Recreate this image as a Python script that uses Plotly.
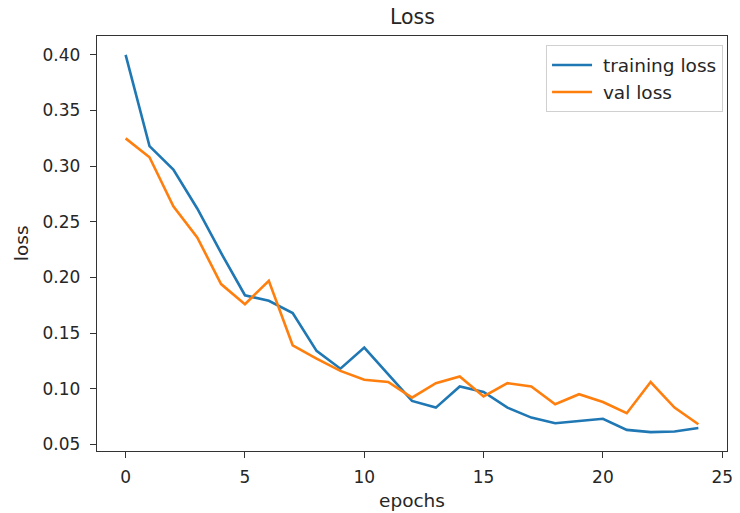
import plotly.graph_objects as go

epochs = list(range(25))
training_loss = [0.400, 0.318, 0.297, 0.262, 0.222, 0.184, 0.179, 0.168, 0.134, 0.118,
                 0.137, 0.113, 0.089, 0.083, 0.102, 0.097, 0.083, 0.074, 0.069, 0.071,
                 0.073, 0.063, 0.061, 0.0615, 0.0646]
val_loss = [0.325, 0.308, 0.264, 0.236, 0.194, 0.176, 0.197, 0.139, 0.127, 0.116,
            0.108, 0.106, 0.092, 0.105, 0.111, 0.093, 0.105, 0.102, 0.086, 0.095,
            0.088, 0.078, 0.106, 0.083, 0.068]
x_ticks = [0, 5, 10, 15, 20, 25]
y_ticks = [0.05, 0.10, 0.15, 0.20, 0.25, 0.30, 0.35, 0.40]

W, H = 740, 513
L, T, R, B = 97, 36, 7, 61.5
pw, ph = W - L - R, H - T - B

fig = go.Figure()
fig.add_trace(go.Scatter(x=epochs, y=training_loss, mode="lines",
                         name="\u00a0training loss",
                         line=dict(color="#1f77b4", width=2.6)))
fig.add_trace(go.Scatter(x=epochs, y=val_loss, mode="lines",
                         name="\u00a0val loss",
                         line=dict(color="#ff7f0e", width=2.6)))

font = "DejaVu Sans"
axis_common = dict(showgrid=False, zeroline=False, showline=True, linecolor="#333333",
                   linewidth=1.4, mirror=True, ticks="outside", ticklen=6, tickwidth=1.4,
                   tickcolor="#333333", tickfont=dict(family=font, size=17, color="#262626"))

fig.update_layout(
    width=W, height=H,
    margin=dict(l=L, r=R, t=T, b=B, pad=0),
    paper_bgcolor="white", plot_bgcolor="white",
    showlegend=True,
    legend=dict(x=(729 - L) / pw, xanchor="right", y=1 - (45.5 - T) / ph,
                yanchor="top", bgcolor="rgba(255,255,255,0.8)", bordercolor="#d0d0d0",
                borderwidth=1, font=dict(family=font, size=18.5, color="#262626"),
                tracegroupgap=0, itemwidth=40),
    xaxis=dict(range=[-1.2, 25.2], tickvals=x_ticks, ticklabelstandoff=4, **axis_common),
    yaxis=dict(range=[0.044, 0.417], tickvals=y_ticks, tickformat=".2f",
               ticklabelstandoff=6, **axis_common),
)

fig.add_annotation(text="Loss", xref="paper", yref="paper", x=0.5, y=1 + (T - 17) / ph,
                   showarrow=False, yanchor="middle",
                   font=dict(family=font, size=20.5, color="#262626"))
fig.add_annotation(text="epochs", xref="paper", yref="paper", x=0.5, y=-(501 - (H - B)) / ph,
                   showarrow=False, yanchor="middle",
                   font=dict(family=font, size=18.5, color="#262626"))
fig.add_annotation(text="loss", xref="paper", yref="paper", x=-(L - 21) / pw, y=0.5,
                   showarrow=False, textangle=-90, xanchor="center",
                   font=dict(family=font, size=18.5, color="#262626"))

# remove the browser's default 8px body margin so the figure fills the window exactly
fig.write_html("out.html", config={"displayModeBar": False},
               post_script="document.body.style.margin='0';document.body.style.overflow='hidden';")
